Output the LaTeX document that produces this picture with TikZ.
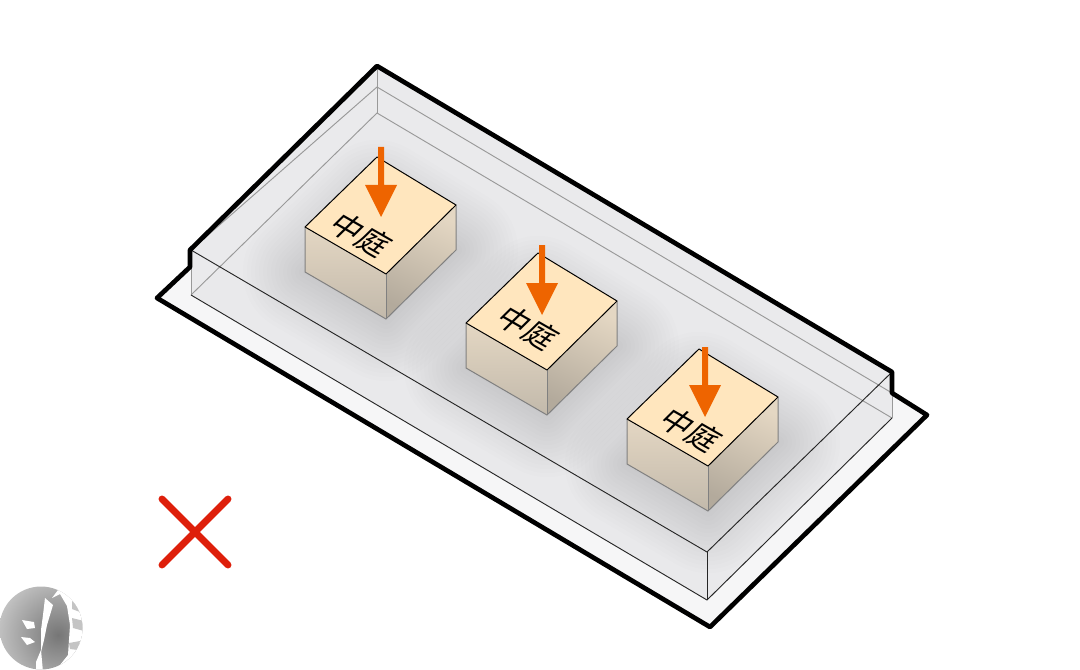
\documentclass[tikz,border=0pt]{standalone}
\usepackage{fontspec}
\newfontfamily\cjk{Noto Sans CJK SC}
\usetikzlibrary{shadings,fadings}
\definecolor{slabc}{HTML}{F6F6F7}
\definecolor{wallc}{HTML}{EAEAEC}
\definecolor{floorc}{HTML}{E9E9EB}
\definecolor{topc}{HTML}{FFE6BE}
\definecolor{sideA}{HTML}{E4D7C3}
\definecolor{sideB}{HTML}{C2B9AB}
\definecolor{sideC}{HTML}{B3AA9C}
\definecolor{arrowc}{HTML}{EE6400}
\definecolor{crossc}{HTML}{DE1F0A}
\definecolor{logoA}{HTML}{C4C4C4}
\definecolor{logoB}{HTML}{767676}
\tikzset{
  heavy/.style={line width=3.5pt,line join=round,line cap=round,black},
  thinblack/.style={line width=0.7pt,black!85},
  thingray/.style={line width=0.7pt,black!40},
  cubeedge/.style={line width=0.75pt,black,line join=round},
  cubevert/.style={line width=0.75pt,black!50},
  lab/.style={font=\cjk\fontsize{24pt}{24pt}\selectfont,inner sep=0pt,text=black},
  pointer/.style={fill=arrowc,draw=none},
  crossline/.style={line width=5.2pt,crossc,line cap=round},
}
\newcommand{\cubeshadow}[2]{%
  \begin{scope}[shift={(#1,#2)}]
    \foreach \w in {4,12,...,124}{
      \fill[black,opacity=0.0085,draw=black,line join=round,line width=\w*0.75pt]
        (305,272)--(386,319)--(456,250)--(377,202)--cycle;
    }
  \end{scope}}
\newcommand{\cubebody}[2]{%
  \begin{scope}[shift={(#1,#2)}]
    \shade[top color=sideA,bottom color=sideB]
      (305,227)--(386,274)--(386,319)--(305,272)--cycle;
    \shade[top color=sideA,bottom color=sideC,shading angle=-25]
      (386,274)--(456,205)--(456,250)--(386,319)--cycle;
    \draw[cubevert] (305,227)--(305,272)--(386,319)--(456,250)--(456,205);
    \draw[cubevert] (386,274)--(386,319);
    \draw[cubeedge,fill=topc] (377,157)--(456,205)--(386,274)--(305,227)--cycle;
  \end{scope}}
\newcommand{\drop}[4]{% x, top, base, tip
  \fill[pointer] (#1-3,#2)--(#1+3,#2)--(#1+3,#3)--(#1+16,#3)--(#1,#4)--(#1-16,#3)--(#1-3,#3)--cycle;}
\begin{document}
\begin{tikzpicture}[x=0.75pt,y=-0.75pt]
\useasboundingbox (0,0) rectangle (1080,670);
% slab
\fill[slabc] (157,298)--(190,267)--(190,250)--(377,66)--(892,372)--(892,393)--(927,415)--(710,627)--cycle;
% box
\fill[wallc] (191,250)--(378,67)--(892,372)--(892,418)--(707,600)--(191,295)--cycle;
% floor with shadows
\begin{scope}
  \clip (191,295)--(377,113)--(892,418)--(707,600)--cycle;
  \fill[floorc] (191,295)--(377,113)--(892,418)--(707,600)--cycle;
  \cubeshadow{0}{0}
  \cubeshadow{161}{96}
  \cubeshadow{322}{192}
\end{scope}
% back inner lines of the box
\draw[thingray] (191,295)--(377,113)--(892,418);
\draw[thingray] (191,250)--(377,87)--(892,393);
\draw[thingray] (377,67)--(377,113);
\draw[thingray] (191,250)--(191,295);
\draw[thingray] (892,372)--(892,418);
% cubes
\cubebody{0}{0}
\cubebody{161}{96}
\cubebody{322}{192}
% labels
\node[lab,cm={0.8,-0.46,0.71,0.70,(0,0)},transform shape] (t1) at (361,235) {中庭};
\node[lab,cm={0.8,-0.46,0.71,0.70,(0,0)},transform shape] (t2) at (528,328) {中庭};
\node[lab,cm={0.8,-0.46,0.71,0.70,(0,0)},transform shape] (t3) at (691,430) {中庭};
% arrows
\drop{381}{147}{185}{217}
\drop{542}{245}{283}{315}
\drop{705}{347}{385}{417}
% front edges
\draw[thinblack] (191,250)--(707,552)--(892,372);
\draw[thinblack] (191,295)--(707,600)--(892,418);
\draw[thinblack] (707,552)--(707,600);
% outline
\draw[heavy] (157,298)--(190,267)--(190,250)--(377,66)--(892,372)--(892,393)--(927,415)--(710,627)--cycle;
% cross
\draw[crossline] (162,565)--(228,499);
\draw[crossline] (162,499)--(228,565);
% logo
\begin{scope}
  \clip (41,628) circle (41.5);
  \shade[inner color=logoB,outer color=logoA] (58,635) circle (62);
  \fill[white] (58,590)--(52,598)--(60,594)--(67,606)--(70,625)--(68,655)--(56,670)--(48,672)--(90,672)--(90,585)--cycle;
  \fill[white] (45,598)--(53,605)--(47,625)--(44,640)--(41,652)--(41,630)--(43,615)--cycle;
  \fill[white] (22,620)--(34,622)--(35,628)--(27,629)--cycle;
  \fill[white] (21,637)--(30,638)--(35,642)--(27,645)--cycle;
  \fill[white] (36,662)--(41,650)--(43,672)--(36,672)--cycle;
  \fill[logoA] (72,601)--(80,608)--(80,612)--(72,609)--cycle;
  \fill[logoA] (72,618)--(84,621)--(84,631)--(73,628)--cycle;
  \fill[logoA] (69,643)--(80,641)--(78,650)--(70,649)--cycle;
\end{scope}
\end{tikzpicture}
\end{document}
